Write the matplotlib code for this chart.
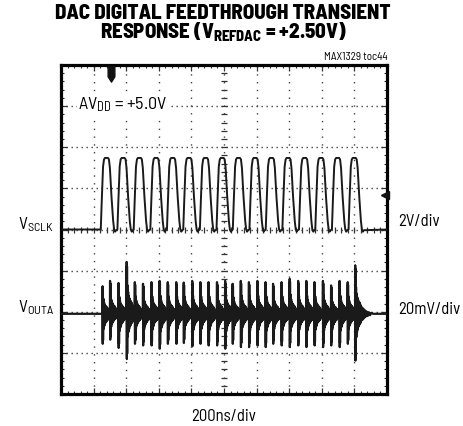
import numpy as np
import matplotlib
matplotlib.use('Agg')
import matplotlib.pyplot as plt
from matplotlib.path import Path
from matplotlib import font_manager as fm

# SCLK trace: rising edges (div) and levels (div)
sclk_rise = [1.22, 1.73, 2.23, 2.74, 3.25, 3.75, 4.26, 4.77,
             5.27, 5.78, 6.28, 6.79, 7.30, 7.80, 8.31, 8.82]
sclk_high = 1.74
sclk_base = 0.0
# one clock pulse: time offset (div) and fraction of high level
pulse_dt = [0.00, 0.03, 0.07, 0.10, 0.13, 0.22, 0.25, 0.28, 0.33, 0.38, 0.41, 0.44, 0.47]
pulse_fr = [0.00, 0.40, 0.88, 0.98, 1.00, 1.00, 0.98, 0.86, 0.45, 0.12, 0.00, -0.03, -0.01]

# VOUTA feedthrough spikes (div)
outa_base = -2.05
spike_t = [1.27, 1.50, 1.76, 2.01, 2.26, 2.51, 2.77, 3.02, 3.27, 3.53, 3.76,
           4.02, 4.27, 4.52, 4.78, 5.03, 5.26, 5.51, 5.76, 6.02, 6.27, 6.50,
           6.76, 7.01, 7.27, 7.52, 7.77, 8.03, 8.28, 8.54, 8.79, 9.02]
spike_up = [0.67, 0.80, 0.75, 1.26, 0.77, 0.73, 0.77, 0.80, 0.77, 0.77, 0.76,
            0.80, 0.77, 0.77, 0.77, 0.80, 0.73, 0.80, 0.77, 0.80, 0.77, 0.73,
            0.77, 0.85, 0.80, 0.80, 0.77, 0.80, 0.69, 0.80, 0.77, 1.18]
spike_dn = [0.73, 0.63, 0.83, 1.10, 0.73, 0.77, 0.77, 0.85, 0.73, 0.73, 0.71,
            0.79, 0.73, 0.77, 0.77, 0.85, 0.73, 0.81, 0.81, 0.77, 0.81, 0.73,
            0.77, 0.81, 0.77, 0.81, 0.77, 0.81, 0.77, 0.81, 0.73, 1.14]
# ringing after each edge: offset (div), fraction of spike size
ring_dt = [0.000, 0.005, 0.010, 0.015, 0.020, 0.030, 0.040, 0.050, 0.060, 0.070,
           0.080, 0.090, 0.100, 0.110, 0.120, 0.130, 0.140, 0.150, 0.160, 0.170,
           0.180, 0.190, 0.200, 0.215]
ring_fr = [0.00, 1.00, -1.00, 0.92, -0.88, 0.55, -0.50, 0.42, -0.40, 0.34,
           -0.34, 0.30, -0.28, 0.26, -0.26, 0.24, -0.22, 0.22, -0.20, 0.18,
           -0.18, 0.15, -0.14, 0.05]
tail_dt = [0.23, 0.24, 0.25, 0.26, 0.27, 0.28, 0.29, 0.30, 0.31, 0.32, 0.34,
           0.36, 0.38, 0.40, 0.43, 0.46, 0.50, 0.55]
tail_fr = [0.12, -0.12, 0.10, -0.10, 0.09, -0.09, 0.08, -0.07, 0.06, -0.06,
           0.05, -0.05, 0.04, -0.04, 0.03, -0.03, 0.02, 0.00]

names = {f.name for f in fm.fontManager.ttflist}
def pick(*fams):
    for f in fams:
        if f in names:
            return f
    return 'Liberation Sans'

lab_font = pick('Barlow Semi Condensed', 'Archivo Narrow', 'Barlow Condensed')
ttl_font = pick('Barlow Semi Condensed', 'Barlow Condensed', 'Archivo Narrow')
plt.rcParams['font.family'] = [lab_font, 'DejaVu Sans']
plt.rcParams['mathtext.fontset'] = 'custom'
plt.rcParams['mathtext.rm'] = lab_font
plt.rcParams['mathtext.it'] = lab_font + ':italic'
plt.rcParams['mathtext.bf'] = ttl_font + ':heavy'

W, H = 463, 427
fig = plt.figure(figsize=(W / 100, H / 100), dpi=100)
ax = fig.add_axes([61 / W, 1 - 395 / H, 326 / W, 329 / H])
ax.set_xlim(0, 10)
ax.set_ylim(-4, 4)

# graticule
for xv in range(1, 10):
    ax.axvline(xv, ls=(0, (1, 4.6)), lw=1, color='#444', zorder=1)
for yv in range(-3, 4):
    ax.axhline(yv, ls=(0, (1, 2.6)), lw=1, color='#444', zorder=1)
ax.plot(np.full(41, 5.0), np.linspace(-4, 4, 41), ls='none', marker='_',
        ms=5, mew=0.9, color='#333', zorder=1)
ax.plot(np.linspace(0, 10, 51), np.zeros(51), ls='none', marker='|',
        ms=5, mew=0.9, color='#333', zorder=1)

ax.set_xticks(np.arange(0, 11, 1))
ax.set_yticks(np.arange(-4, 5, 1))
ax.set_xticks(np.linspace(0, 10, 51), minor=True)
ax.set_yticks(np.linspace(-4, 4, 41), minor=True)
ax.tick_params(which='both', direction='in', top=True, right=True,
               labelbottom=False, labelleft=False, color='#333')
ax.tick_params(which='major', length=4, width=0.9)
ax.tick_params(which='minor', length=2.5, width=0.8)
for s in ax.spines.values():
    s.set_linewidth(2.3)
    s.set_color('black')

# SCLK trace
sx, sy = [0.0], [sclk_base]
for r in sclk_rise:
    for dt, fr in zip(pulse_dt, pulse_fr):
        sx.append(r + dt)
        sy.append(sclk_base + fr * sclk_high)
sx.append(10.0)
sy.append(sclk_base)
ax.plot(sx, sy, color='#1a1a1a', lw=1.4, zorder=3)

# VOUTA trace
ox, oy = [0.0], [outa_base]
for t, up, dn in zip(spike_t, spike_up, spike_dn):
    for dt, fr in zip(ring_dt, ring_fr):
        ox.append(t + dt)
        oy.append(outa_base + fr * (up if fr > 0 else dn))
for dt, fr in zip(tail_dt, tail_fr):
    ox.append(spike_t[-1] + dt)
    oy.append(outa_base + fr * (spike_up[-1] if fr > 0 else spike_dn[-1]))
ox.append(10.0)
oy.append(outa_base)
ax.plot(ox, oy, color='#1a1a1a', lw=1.6, zorder=3)

# trigger markers
trig = Path([(-0.22, 0.5), (0.22, 0.5), (0.22, -0.15), (0, -0.5),
             (-0.22, -0.15), (-0.22, 0.5)],
            [Path.MOVETO] + [Path.LINETO] * 4 + [Path.CLOSEPOLY])
ax.plot([1.52], [3.77], marker=trig, ms=11, color='#111', zorder=4)
ax.plot([9.93], [0.85], marker='<', ms=6, color='#111', zorder=4, clip_on=False)

ax.text(0.52, 3.05, r'A$\mathrm{V_{DD}}$ = +5.0V', fontsize=13, ha='left',
        va='center', zorder=5,
        bbox=dict(facecolor='white', edgecolor='none', pad=1))

# outside labels
def ftext(x, y, s, **kw):
    fig.text(x / W, 1 - y / H, s, **kw)

ftext(223, 24, 'DAC DIGITAL FEEDTHROUGH TRANSIENT\n'
      r'RESPONSE ($\mathbf{V_{REFDAC}}$ = +2.50V)', fontsize=15,
      family=ttl_font, fontweight='heavy', ha='center', va='center',
      multialignment='center', linespacing=0.9)
ftext(388, 57, 'MAX1329 toc44', fontsize=8, ha='right', va='center')
ftext(54, 225, r'$\mathrm{V_{SCLK}}$', fontsize=12.5, ha='right', va='center')
ftext(54, 308, r'$\mathrm{V_{OUTA}}$', fontsize=12.5, ha='right', va='center')
ftext(398, 222, '2V/div', fontsize=12, ha='left', va='center')
ftext(398, 310, '20mV/div', fontsize=12, ha='left', va='center')
ftext(224, 417, '200ns/div', fontsize=12, ha='center', va='center')

fig.savefig('out.png', dpi=100)
